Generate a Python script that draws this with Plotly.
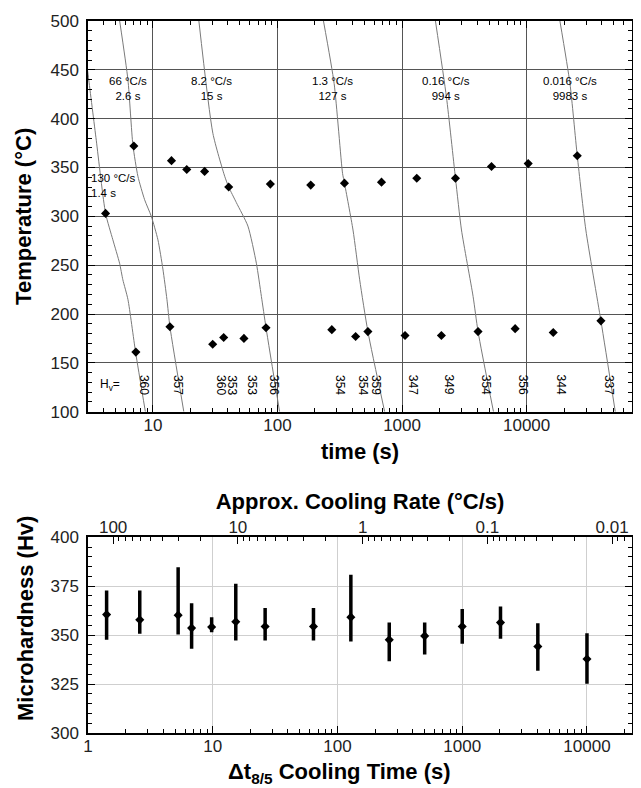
import math
import plotly.graph_objects as go

# ---------------- data: top chart (temperature vs time) ----------------
start_time = [4.17, 7.03, 14.1, 18.7, 26.0, 40.6, 87.7, 185, 345, 684, 1313, 2685, 5225, 10300, 25500]
start_temp = [303, 372, 357, 348, 346, 330, 333, 332, 334, 335, 339, 339, 351, 354, 362]
finish_time = [7.3, 13.7, 30.2, 37, 53.8, 80.9, 273, 424, 532, 1057, 2070, 4075, 8090, 16360, 39500]
finish_temp = [161, 187, 169, 176, 175, 186, 184, 177, 182, 178, 178, 182, 185, 181, 193]
hv_labels = ["360", "357", "360", "353", "353", "356", "354", "354", "359",
             "347", "349", "354", "356", "344", "337"]

curve1_time = [2.92, 3.04, 3.51, 4.17, 4.77, 5.40, 5.74, 6.30, 7.26, 8.7]
curve1_temp = [460, 442, 378, 303, 276, 252, 235, 215, 161, 100]
curve2_time = [5.41, 6.3, 6.91, 7.58, 8.58, 9.71, 10.97, 12.03, 12.96, 13.7, 17.7]
curve2_temp = [500, 440, 373, 341, 317, 300, 276, 246, 215, 187, 100]
curve3_time = [23.4, 30.3, 37.7, 40.6, 46.8, 57.9, 67.7, 74.3, 80.9, 104]
curve3_temp = [500, 385, 341, 330, 314, 290, 252, 218, 186, 100]
curve4_time = [234, 285, 333, 345, 404, 457, 532, 725]
curve4_temp = [500, 436, 344, 334, 286, 235, 182, 100]
curve5_time = [1854, 2273, 2685, 3000, 3718, 4075, 5420]
curve5_temp = [500, 422, 339, 286, 218, 182, 100]
curve6_time = [18510, 22280, 25500, 29890, 39500, 51500]
curve6_temp = [500, 436, 362, 286, 193, 100]

curve_rates = ["130 °C/s", "66 °C/s", "8.2 °C/s", "1.3 °C/s", "0.16 °C/s", "0.016 °C/s"]
curve_dt = ["1.4 s", "2.6 s", "15 s", "127 s", "994 s", "9983 s"]

# ---------------- data: bottom chart (microhardness) ----------------
dt85 = [1.41, 2.6, 5.28, 6.77, 9.8, 15.3, 26.3, 64.2, 128, 260, 500, 1000, 2027, 4037, 10000]
hv_mean = [360.5, 357.8, 360.2, 353.6, 354.1, 356.8, 354.4, 354.4, 359.2, 347.6, 349.6, 354.4, 356.4, 344.2, 337.8]
hv_max = [372.8, 372.8, 384.7, 366.3, 359.2, 376.2, 363.8, 363.8, 380.8, 356.4, 356.4, 363.3, 364.6, 356.1, 351.0]
hv_min = [347.6, 350.7, 350.3, 343.0, 351.5, 347.2, 347.2, 347.2, 346.7, 336.7, 340.1, 345.6, 348.1, 331.8, 325.2]

time_ticks = [1, 10, 100, 1000, 10000]
rate_ticks = [100, 10, 1, 0.1, 0.01]
RATE_K = 159.0  # approx. cooling rate = K / dt

FONT = "Liberation Sans, Arial, Helvetica, sans-serif"

fig = go.Figure()

# cooling curves
curves = [(curve1_time, curve1_temp), (curve2_time, curve2_temp), (curve3_time, curve3_temp),
          (curve4_time, curve4_temp), (curve5_time, curve5_temp), (curve6_time, curve6_temp)]
for ct, cT in curves:
    fig.add_trace(go.Scatter(x=ct, y=cT, mode="lines", xaxis="x", yaxis="y",
                             line=dict(color="#7a7a7a", width=1, shape="spline", smoothing=0.6),
                             hoverinfo="skip", showlegend=False))

fig.add_trace(go.Scatter(x=start_time, y=start_temp, mode="markers", xaxis="x", yaxis="y",
                         marker=dict(symbol="diamond", size=7, color="black"), showlegend=False))
fig.add_trace(go.Scatter(x=finish_time, y=finish_temp, mode="markers", xaxis="x", yaxis="y",
                         marker=dict(symbol="diamond", size=7, color="black"), showlegend=False))

# bottom chart
err_plus = [hi - m for hi, m in zip(hv_max, hv_mean)]
err_minus = [m - lo for m, lo in zip(hv_mean, hv_min)]
fig.add_trace(go.Scatter(x=dt85, y=hv_mean, mode="markers", xaxis="x2", yaxis="y2",
                         marker=dict(symbol="diamond", size=7, color="black"),
                         error_y=dict(type="data", symmetric=False, array=err_plus, arrayminus=err_minus,
                                      color="black", thickness=3.5, width=0),
                         showlegend=False))
# same points on the cooling-rate axis (invisible) so the top axis is drawn
fig.add_trace(go.Scatter(x=[RATE_K / t for t in dt85], y=hv_mean, mode="markers", xaxis="x3", yaxis="y2",
                         marker=dict(opacity=0), hoverinfo="skip", showlegend=False))

annotations = []
label_pos = [(3.06, 332, "left"), (6.3, 431, "center"), (29.6, 431, "center"),
             (277, 431, "center"), (2252, 431, "center"), (22280, 431, "center")]
for (lx, ly, al), r, d in zip(label_pos, curve_rates, curve_dt):
    annotations.append(dict(x=math.log10(lx), y=ly, xref="x", yref="y", text=r + "<br>" + d,
                            showarrow=False, align="center" if al == "center" else "left",
                            xanchor=al, font=dict(size=11.5, color="black", family=FONT)))
for t, lab in zip(finish_time, hv_labels):
    annotations.append(dict(x=math.log10(t), y=127.5, xref="x", yref="y", text=lab, textangle=90,
                            showarrow=False, xshift=8, font=dict(size=12, color="black", family=FONT)))
annotations.append(dict(x=math.log10(4.56), y=127, xref="x", yref="y", text="H<sub>v</sub>=",
                        showarrow=False, font=dict(size=12, color="black", family=FONT)))

title_font = dict(size=22, color="black", family=FONT)
# bottom chart titles (slightly off-centre in the original)
annotations.append(dict(x=0.4623, y=-0.0565, xref="paper", yref="paper", xanchor="center", yanchor="middle",
                        text="<b>Δt<sub>8/5</sub> Cooling Time (s)</b>", showarrow=False, font=title_font))
annotations.append(dict(x=-0.1158, y=0.1601, xref="paper", yref="paper", xanchor="center", yanchor="middle",
                        text="<b>Microhardness (Hv)</b>", textangle=-90, showarrow=False, font=title_font))

top_minor = [m * d for d in (1, 10, 100, 1000) for m in range(2, 10)] + [20000, 30000, 40000, 50000, 60000]
top_minor = [v for v in top_minor if v > 3.05]
bot_minor = [m * d for d in (1, 10, 100, 1000) for m in range(2, 10)] + [20000]
rate_minor = [round(m * d, 4) for d in (10, 1, 0.1, 0.01) for m in range(2, 10)] + [0.009, 0.008, 0.007]


def minor_arr(vals):
    return dict(tickmode="array", tickvals=vals, ticks="inside", ticklen=4,
                tickcolor="black", tickwidth=1, showgrid=False)


def minor_lin(t0, dt):
    return dict(tick0=t0, dtick=dt, ticks="inside", ticklen=4,
                tickcolor="black", tickwidth=1, showgrid=False)


axis_common = dict(showline=True, linecolor="black", linewidth=1.5, ticks="inside",
                   tickcolor="black", tickwidth=1, ticklen=7, zeroline=False, automargin=False,
                   tickfont=dict(size=17, color="#222", family=FONT))

# The page body adds an 8px offset, so the figure is 8px smaller than the window.
fig.update_layout(
    width=633, height=780,
    margin=dict(l=80, r=9, t=13, b=55),
    paper_bgcolor="white", plot_bgcolor="white",
    font=dict(family=FONT, size=17, color="#222"),
    showlegend=False,
    annotations=annotations,
    xaxis=dict(axis_common, type="log", range=[0.479, 4.846], anchor="y", domain=[0, 1],
               tickmode="array", tickvals=time_ticks[1:], ticktext=[str(v) for v in time_ticks[1:]],
               mirror="ticks", ticklabelstandoff=-3, minor=minor_arr(top_minor),
               showgrid=True, gridcolor="#555", gridwidth=1,
               title=dict(text="<b>time (s)</b>", font=title_font, standoff=10)),
    yaxis=dict(axis_common, range=[100, 500], anchor="x", domain=[0.4513, 1.0],
               tick0=100, dtick=50, mirror="ticks", ticklabelstandoff=4, minor=minor_lin(100, 10),
               showgrid=True, gridcolor="#555", gridwidth=1,
               title=dict(text="<b>Temperature (°C)</b>", font=title_font, standoff=13)),
    xaxis2=dict(axis_common, type="log", range=[0, 4.361], anchor="y2", domain=[0, 1],
                tickmode="array", tickvals=time_ticks, ticktext=[str(v) for v in time_ticks],
                mirror=False, ticklabelstandoff=-3, minor=minor_arr(bot_minor),
                showgrid=True, gridcolor="#cfcfcf", gridwidth=1),
    xaxis3=dict(axis_common, type="log", overlaying="x2", anchor="y2", side="top",
                range=[math.log10(RATE_K), math.log10(RATE_K) - 4.361],
                tickmode="array", tickvals=rate_ticks, ticktext=[str(v) for v in rate_ticks],
                ticklabelstandoff=-4, minor=minor_arr(rate_minor), showgrid=False,
                title=dict(text="<b>Approx. Cooling Rate (°C/s)</b>", font=title_font, standoff=2)),
    yaxis2=dict(axis_common, range=[300, 400], anchor="x2", domain=[0, 0.2749],
                tick0=300, dtick=25, mirror="ticks", ticklabelstandoff=4, minor=minor_lin(300, 5),
                showgrid=True, gridcolor="#cfcfcf", gridwidth=1),
)

fig.write_html("out.html")
